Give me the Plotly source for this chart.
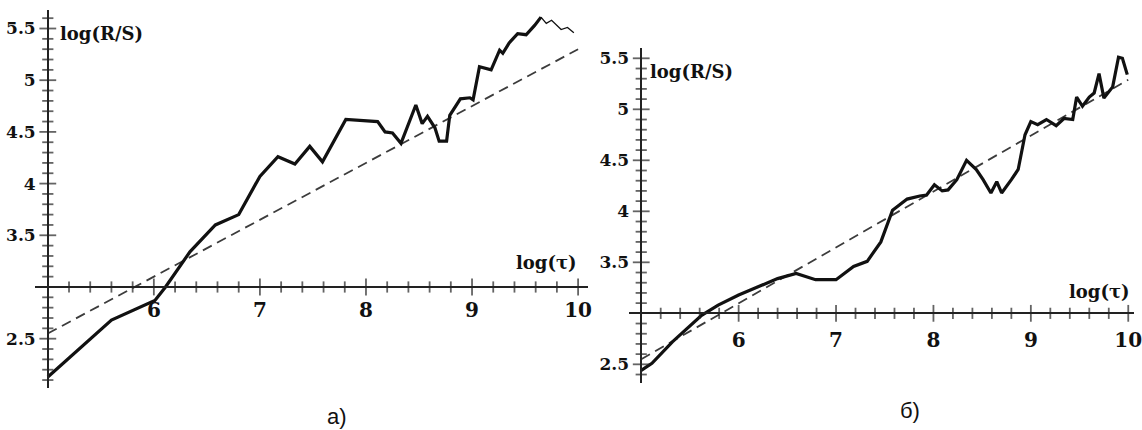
import numpy as np
import plotly.graph_objects as go

# R/S analysis: log(R/S) against log(tau), two series
a_x = [5.00, 5.60, 6.01, 6.11, 6.34, 6.58, 6.80, 7.00, 7.17, 7.33,
       7.47, 7.59, 7.81, 8.11, 8.18, 8.25, 8.33, 8.47, 8.53, 8.58,
       8.65, 8.69, 8.76, 8.79, 8.89, 8.98, 9.01, 9.07, 9.18, 9.26,
       9.29, 9.35, 9.43, 9.51, 9.59, 9.65, 9.70, 9.75, 9.84, 9.90,
       9.96]
a_y = [2.13, 2.68, 2.87, 3.00, 3.34, 3.60, 3.70, 4.07, 4.26, 4.19,
       4.36, 4.21, 4.62, 4.60, 4.50, 4.49, 4.39, 4.76, 4.58, 4.65,
       4.54, 4.41, 4.41, 4.66, 4.82, 4.83, 4.81, 5.13, 5.10, 5.29,
       5.26, 5.36, 5.45, 5.44, 5.53, 5.61, 5.55, 5.58, 5.49, 5.51,
       5.46]

b_x = [5.00, 5.11, 5.32, 5.62, 5.79, 6.00, 6.20, 6.40, 6.59, 6.79,
       7.00, 7.18, 7.32, 7.46, 7.58, 7.73, 7.86, 7.93, 8.01, 8.09,
       8.15, 8.24, 8.34, 8.44, 8.51, 8.59, 8.65, 8.70, 8.80, 8.87,
       8.94, 9.00, 9.07, 9.16, 9.26, 9.34, 9.43, 9.47, 9.53, 9.60,
       9.65, 9.70, 9.75, 9.84, 9.90, 9.94, 9.99]
b_y = [2.44, 2.51, 2.72, 2.98, 3.08, 3.18, 3.26, 3.34, 3.39, 3.33,
       3.33, 3.46, 3.51, 3.70, 4.01, 4.12, 4.15, 4.16, 4.26, 4.20,
       4.21, 4.31, 4.50, 4.41, 4.31, 4.18, 4.29, 4.18, 4.31, 4.41,
       4.75, 4.88, 4.85, 4.90, 4.84, 4.91, 4.90, 5.12, 5.03, 5.12,
       5.16, 5.35, 5.11, 5.22, 5.51, 5.50, 5.34]

# fitted regression lines
fit_x = [5.0, 10.0]
fit_a_y = [2.55, 5.30]
fit_b_y = [2.55, 5.29]

x_tick_vals = [6, 7, 8, 9, 10]
y_tick_vals = [2.5, 3.5, 4, 4.5, 5, 5.5]
y_tick_text = ["2.5", "3.5", "4", "4.5", "5", "5.5"]

# axes cross at this point
ORIGIN_X, ORIGIN_Y = 5.0, 3.0

W, H = 1142, 430
TAIL_FROM = 35  # last stretch of series a is drawn with a thin pen

INK = "#111111"
AXIS = "#222222"
SERIF = "DejaVu Serif"

# panel geometry: axis ranges and their pixel extents in the page
A_XR, A_XPX = [4.877, 10.092], [35, 592]
A_YR, A_YPX = [2.023, 5.679], [388, 10]
B_XR, B_XPX = [4.870, 10.059], [633, W]
B_YR, B_YPX = [2.317, 5.601], [383, 48]


def px_x(p):
    return p / W


def px_y(p):
    return 1 - p / H


fig = go.Figure()


def tick_marks(xr, yr, y_top):
    """Tick strokes on both crossing axes, drawn as line-shaped markers."""
    xv = [float(v) for v in np.round(np.arange(5.2, 10.01, 0.2), 2)]
    x_major = [abs(v - round(v)) < 1e-6 for v in xv]
    yv = [float(v) for v in np.round(np.arange(2.1, y_top, 0.1), 2)
          if abs(v - ORIGIN_Y) > 1e-6]
    y_major = [abs(v * 2 - round(v * 2)) < 1e-6 for v in yv]
    return [
        go.Scatter(x=xv, y=[ORIGIN_Y] * len(xv), mode="markers",
                   xaxis=xr, yaxis=yr, hoverinfo="skip", cliponaxis=False,
                   marker=dict(symbol="line-ns-open", color=AXIS,
                               size=[12 if m else 8 for m in x_major],
                               line=dict(color=AXIS, width=1.8))),
        go.Scatter(x=[ORIGIN_X] * len(yv), y=yv, mode="markers",
                   xaxis=xr, yaxis=yr, hoverinfo="skip", cliponaxis=False,
                   marker=dict(symbol="line-ew-open", color=AXIS,
                               size=[12 if m else 8 for m in y_major],
                               line=dict(color=AXIS, width=1.8))),
    ]


# panel а
fig.add_trace(go.Scatter(x=fit_x, y=fit_a_y, mode="lines", xaxis="x", yaxis="y",
                         line=dict(color="#3c3c3c", width=1.8, dash="10px,6px")))
fig.add_trace(go.Scatter(x=a_x[:TAIL_FROM + 1], y=a_y[:TAIL_FROM + 1], mode="lines",
                         xaxis="x", yaxis="y", line=dict(color=INK, width=3.2)))
fig.add_trace(go.Scatter(x=a_x[TAIL_FROM:], y=a_y[TAIL_FROM:], mode="lines",
                         xaxis="x", yaxis="y", line=dict(color=INK, width=1.3)))
fig.add_traces(tick_marks("x", "y", 5.65))

# panel б
fig.add_trace(go.Scatter(x=fit_x, y=fit_b_y, mode="lines", xaxis="x2", yaxis="y2",
                         line=dict(color="#3c3c3c", width=1.8, dash="10px,6px")))
fig.add_trace(go.Scatter(x=b_x, y=b_y, mode="lines", xaxis="x2", yaxis="y2",
                         line=dict(color=INK, width=3.2)))
fig.add_traces(tick_marks("x2", "y2", 5.58))


def x_axis(rng, pxs, pos, standoff):
    return dict(range=rng, domain=[px_x(pxs[0]), px_x(pxs[1])],
                anchor="free", position=pos,
                showline=True, linecolor=AXIS, linewidth=1.6,
                showgrid=False, zeroline=False, ticks="",
                tickmode="array", tickvals=x_tick_vals,
                ticklabelstandoff=standoff, ticklabeloverflow="allow",
                tickfont=dict(family=SERIF, size=20, color=INK, weight="bold"))


def y_axis(rng, pxs, pos):
    return dict(range=rng, domain=[px_y(pxs[0]), px_y(pxs[1])],
                anchor="free", position=pos,
                showline=True, linecolor=AXIS, linewidth=1.6,
                showgrid=False, zeroline=False, ticks="",
                tickmode="array", tickvals=y_tick_vals, ticktext=y_tick_text,
                ticklabelstandoff=8, ticklabeloverflow="allow",
                tickfont=dict(family=SERIF, size=17, color=INK, weight="bold"))


fig.update_layout(
    width=W, height=H,
    margin=dict(l=0, r=0, t=0, b=0),
    paper_bgcolor="white", plot_bgcolor="rgba(0,0,0,0)",
    showlegend=False,
    xaxis=x_axis(A_XR, A_XPX, px_y(287.0), 5),
    yaxis=y_axis(A_YR, A_YPX, px_x(48.2)),
    xaxis2=x_axis(B_XR, B_XPX, px_y(313.3), 9),
    yaxis2=y_axis(B_YR, B_YPX, px_x(645.7)),
)

label_font = dict(family=SERIF, size=18, color=INK, weight="bold")
notes = [
    ("log(R/S)", 58, 33, "left", label_font),
    ("log(τ)", 518, 262, "left", label_font),
    ("log(R/S)", 653, 71, "left", label_font),
    ("log(τ)", 1075, 291, "left", label_font),
    ("а)", 339, 416, "center", dict(family="Liberation Sans", size=22, color=INK)),
    ("б)", 916, 410, "center", dict(family="Liberation Sans", size=22, color=INK)),
]
for text, x, y, anchor, font in notes:
    fig.add_annotation(text=text, xref="paper", yref="paper",
                       x=px_x(x), y=px_y(y), xanchor=anchor, yanchor="middle",
                       showarrow=False, font=font)

fig.write_html("out.html")
